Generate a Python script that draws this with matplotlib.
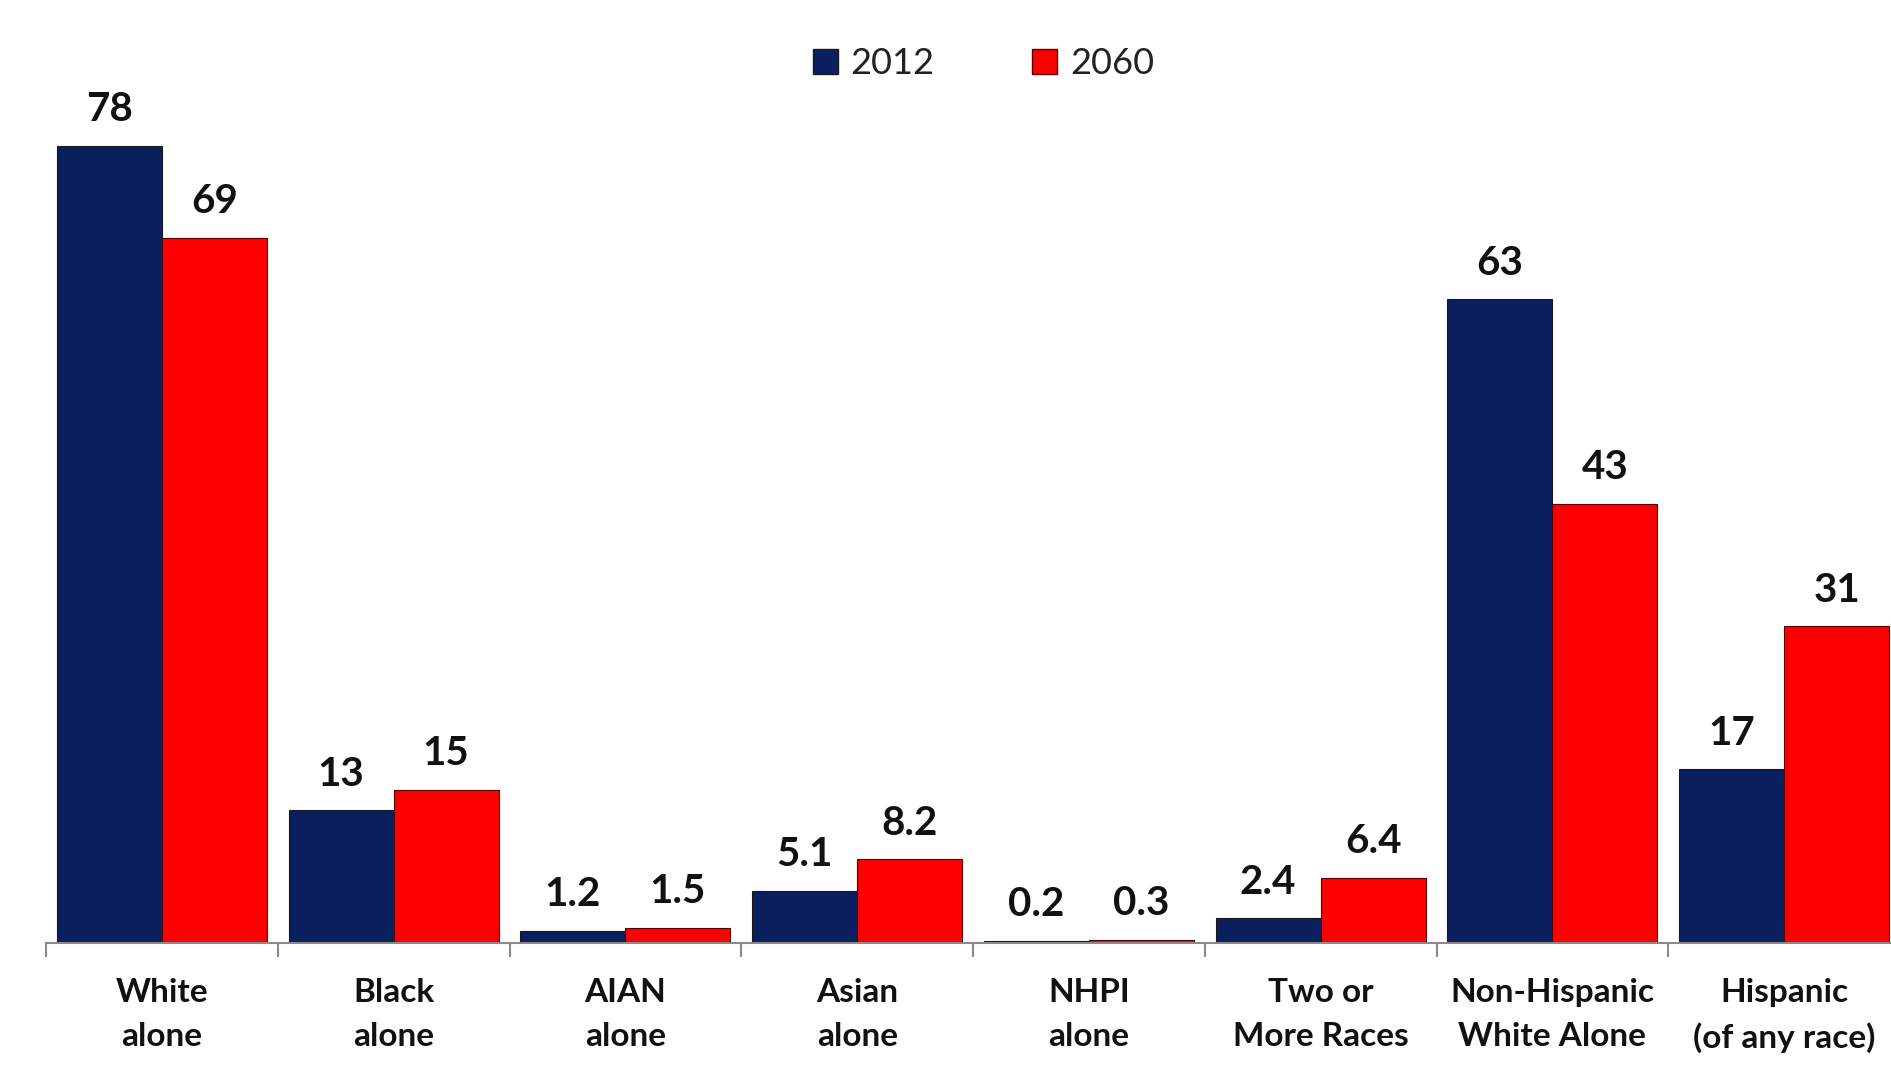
import matplotlib
matplotlib.use("Agg")
import matplotlib.pyplot as plt
from matplotlib.patches import Patch
import numpy as np

categories = ["White\nalone", "Black\nalone", "AIAN\nalone", "Asian\nalone",
              "NHPI\nalone", "Two or\nMore Races", "Non-Hispanic\nWhite Alone",
              "Hispanic\n(of any race)"]
series_names = ["2012", "2060"]
values_2012 = [78, 13, 1.2, 5.1, 0.2, 2.4, 63, 17]
values_2060 = [69, 15, 1.5, 8.2, 0.3, 6.4, 43, 31]
labels_2012 = ["78", "13", "1.2", "5.1", "0.2", "2.4", "63", "17"]
labels_2060 = ["69", "15", "1.5", "8.2", "0.3", "6.4", "43", "31"]

c2012 = "#0B1F5E"
c2060 = "#FF0000"

plt.rcParams['font.family'] = ['Lato', 'DejaVu Sans']

W, H = 1891, 1075
fig = plt.figure(figsize=(W / 100, H / 100), dpi=100)
left_px, right_px = 46, 1900
bottom_px = 943
ymax = 90
px_per_unit = 10.22
top_px = bottom_px - ymax * px_per_unit
ax = fig.add_axes([left_px / W, 1 - bottom_px / H, (right_px - left_px) / W,
                   (bottom_px - top_px) / H])

x = np.arange(len(categories))
bw = 0.453
b1 = ax.bar(x - bw / 2, values_2012, bw, color=c2012, edgecolor="#1a1a1a", linewidth=0.8)
b2 = ax.bar(x + bw / 2, values_2060, bw, color=c2060, edgecolor="#5a0000", linewidth=0.8)

for rects, labs in ((b1, labels_2012), (b2, labels_2060)):
    for r, lab in zip(rects, labs):
        ax.annotate(lab, (r.get_x() + r.get_width() / 2, r.get_height()),
                    xytext=(0, 26), textcoords="offset points",
                    ha="center", va="center", fontsize=29, fontweight="bold",
                    color="#111111")

ax.set_xlim(-0.5, len(categories) - 0.5)
ax.set_ylim(0, ymax)
ax.set_yticks([])
for s in ("left", "top", "right"):
    ax.spines[s].set_visible(False)
ax.spines["bottom"].set_color("#8a8a8a")
ax.spines["bottom"].set_linewidth(1.5)

ax.set_xticks(x)
ax.set_xticklabels(categories, fontsize=24, fontweight="bold", color="#111111",
                   linespacing=1.62)
ax.tick_params(axis="x", which="major", length=0, pad=25)
ax.set_xticks(np.arange(-0.5, len(categories)), minor=True)
ax.tick_params(axis="x", which="minor", length=10, width=1.5, color="#8a8a8a",
               direction="out")

handles = [Patch(facecolor=c2012, edgecolor="#1a1a1a"),
           Patch(facecolor=c2060, edgecolor="#5a0000")]
fig.legend(handles, series_names, loc="center", bbox_to_anchor=(0.520, 0.941),
           ncol=2, frameon=False, fontsize=26, handlelength=0.7,
           handleheight=0.7, handletextpad=0.35, columnspacing=2.7,
           labelcolor="#222222")

fig.savefig("out.png", dpi=100, facecolor="white")
